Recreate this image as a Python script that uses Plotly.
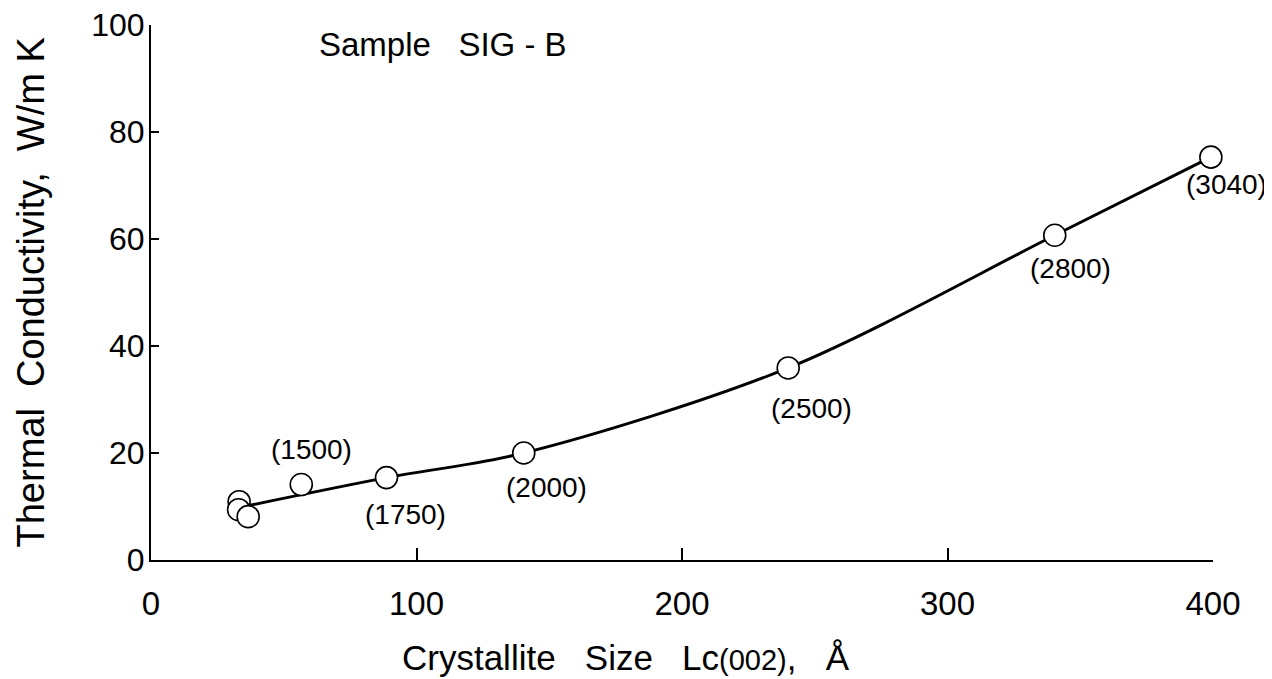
import plotly.graph_objects as go

# Measured points: crystallite size Lc(002) [Å] vs thermal conductivity [W/m K]
size_pts = [33.2, 33.0, 36.6, 56.6, 88.7, 140.4, 240.0, 340.4, 399.2]
cond_pts = [10.9, 9.4, 8.1, 14.1, 15.4, 20.0, 35.9, 60.7, 75.3]

# Smooth curve drawn through the data
curve_x = [35.0, 88.7, 140.4, 240.0, 340.4, 399.2]
curve_y = [10.0, 15.4, 20.0, 35.9, 60.7, 75.3]

# Heat-treatment temperature labels
label_text = ["(1500)", "(1750)", "(2000)", "(2500)", "(2800)", "(3040)"]
label_x = [60.6, 96.0, 148.8, 248.6, 346.5, 404.9]
label_y = [20.6, 8.5, 13.5, 28.4, 54.4, 70.2]

x_ticks = [0, 100, 200, 300, 400]
y_ticks = [0, 20, 40, 60, 80, 100]

FONT = "Liberation Sans, Arial, sans-serif"
NB = "\u00a0"

X0, X1 = 0, 400
W, H = 1264, 671
L, T = 143, 17
PW, PH = 1062, 535
R = W - L - PW
B = H - T - PH

fig = go.Figure()
fig.add_trace(go.Scatter(
    x=curve_x, y=curve_y, mode="lines",
    line=dict(color="black", width=3, shape="spline", smoothing=0.9),
    hoverinfo="skip", showlegend=False, cliponaxis=False))
fig.add_trace(go.Scatter(
    x=size_pts, y=cond_pts, mode="markers",
    marker=dict(symbol="circle", size=22, color="white",
                line=dict(color="black", width=1.6)),
    showlegend=False, cliponaxis=False))

for t, xx, yy in zip(label_text, label_x, label_y):
    xp = (xx - X0) / (X1 - X0)
    fig.add_annotation(x=xp, xref="paper", y=yy, yref="y", text=t, showarrow=False,
                       xanchor="center", yanchor="middle",
                       font=dict(family=FONT, size=28, color="black"))

fig.add_annotation(x=0.275, y=0.963, xref="paper", yref="paper",
                   text="Sample" + NB * 3 + "SIG" + NB + "-" + NB + "B",
                   showarrow=False, xanchor="center", yanchor="middle",
                   font=dict(family=FONT, size=33, color="black"))

xtitle = ("Crystallite" + NB * 3 + "Size" + NB * 3 + "Lc<span style='font-size:29px'>(002)</span>,"
          + NB * 3 + "Å")
ytitle = "Thermal" + NB * 2 + "Conductivity," + NB * 2 + "W/m" + NB + "K"

fig.add_annotation(x=0.447, y=-0.182, xref="paper", yref="paper", text=xtitle,
                   showarrow=False, xanchor="center", yanchor="middle",
                   font=dict(family=FONT, size=35, color="black"))
fig.add_annotation(x=-0.113, y=0.50, xref="paper", yref="paper", text=ytitle,
                   showarrow=False, xanchor="center", yanchor="middle", textangle=-90,
                   font=dict(family=FONT, size=38, color="black"))

fig.update_layout(
    width=W, height=H,
    margin=dict(l=L, r=R, t=T, b=B, autoexpand=False),
    paper_bgcolor="white", plot_bgcolor="white",
    font=dict(family=FONT, color="black"),
    xaxis=dict(range=[X0, X1], tickvals=x_ticks, ticks="inside", ticklen=12,
               tickwidth=1.5, tickcolor="black", showline=True, linecolor="black",
               linewidth=2, showgrid=False, zeroline=False, mirror=False,
               automargin=False, ticklabelstandoff=13, ticklabeloverflow="allow",
               tickfont=dict(family=FONT, size=33, color="black")),
    yaxis=dict(range=[0, 100], tickvals=y_ticks, ticks="inside", ticklen=8,
               tickwidth=1.5, tickcolor="black", showline=True, linecolor="black",
               linewidth=2, showgrid=False, zeroline=False, mirror=False,
               automargin=False, ticklabelstandoff=-2, ticklabeloverflow="allow",
               tickfont=dict(family=FONT, size=32, color="black")),
)

fig.write_html("out.html")
